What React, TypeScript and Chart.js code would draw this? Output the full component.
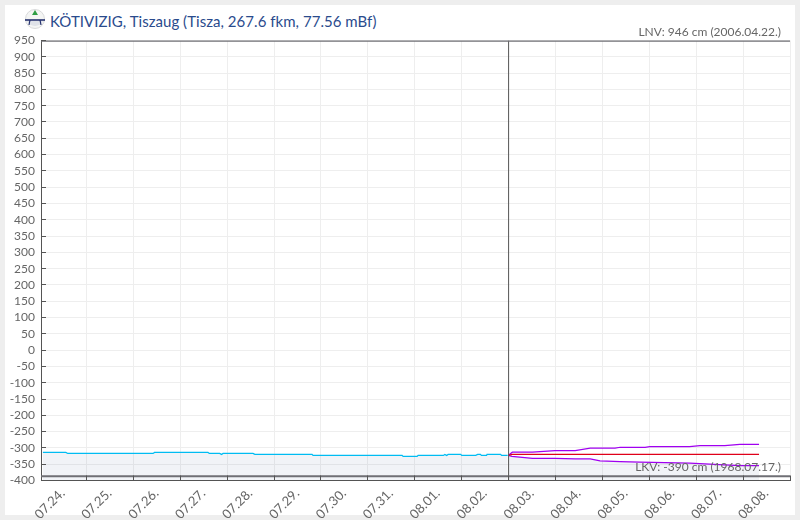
import React, { useEffect, useRef } from "react";
import { Chart, registerables } from "chart.js";

Chart.register(...registerables);

const titleText = "KÖTIVIZIG, Tiszaug (Tisza, 267.6 fkm, 77.56 mBf)";
const lnvText = "LNV: 946 cm (2006.04.22.)";
const lkvText = "LKV: -390 cm (1968.07.17.)";

const dayLabels = ["07.24.", "07.25.", "07.26.", "07.27.", "07.28.", "07.29.", "07.30.", "07.31.", "08.01.", "08.02.", "08.03.", "08.04.", "08.05.", "08.06.", "08.07.", "08.08."];
const xMin = 0.03;
const xMax = 16;
const yMin = -400;
const yMax = 950;
const yStep = 50;

const measuredDays = [0.07, 0.56, 0.6, 2.42, 2.45, 3.59, 3.62, 3.84, 3.88, 3.91, 4.55, 4.59, 5.81, 5.83, 7.73, 7.75, 8.05, 8.07, 8.61, 8.64, 8.68, 8.71, 8.98, 9.0, 9.3, 9.34, 9.4, 9.42, 9.53, 9.54, 9.83, 9.85, 9.98];
const measuredLevels = [-314, -314, -317, -317, -314, -314, -317, -317, -320, -317, -317, -320, -320, -323, -323, -326, -326, -323, -323, -320, -323, -320, -320, -323, -323, -320, -320, -323, -323, -320, -320, -323, -323];

const upperDays = [9.99, 10.08, 10.51, 10.99, 11.42, 11.74, 12.27, 12.38, 12.91, 13.01, 13.86, 14.08, 14.61, 14.93, 15.34];
const upperLevels = [-323, -313, -313, -308, -308, -301, -301, -298, -298, -296, -296, -293, -293, -289, -289];

const lowerDays = [9.99, 10.07, 10.51, 10.99, 11.42, 11.74, 11.95, 12.38, 12.8, 13.86, 14.5, 14.93, 15.34];
const lowerLevels = [-323, -326, -332, -332, -334, -334, -340, -342, -344, -347, -351, -354, -354];

const midDays = [9.99, 10.08, 15.34];
const midLevels = [-323, -320, -320];

const lnvLevel = 949;
const lkvLevel = -387;
const nowDay = 10;

const pts = (xs: number[], ys: number[]) => xs.map((x, i) => ({ x, y: ys[i] }));

const FONT = "Lato";
const FILL = "rgba(20,50,120,0.06)";
const DARK = "#555";

const overlay = {
  id: "overlay",
  afterDatasetsDraw(chart: any) {
    const { ctx, chartArea, scales } = chart;
    ctx.save();
    ctx.strokeStyle = DARK;
    ctx.lineWidth = 1;
    ctx.beginPath();
    scales.x.ticks.forEach((_: any, i: number) => {
      if (i === 0) return;
      const px = Math.floor(scales.x.getPixelForTick(i)) + 0.5;
      ctx.moveTo(px, chartArea.bottom);
      ctx.lineTo(px, chartArea.bottom - 5);
    });
    scales.y.ticks.forEach((_: any, i: number) => {
      const py = Math.floor(scales.y.getPixelForTick(i)) + 0.5;
      ctx.moveTo(chartArea.left, py);
      ctx.lineTo(chartArea.left + 5, py);
    });
    ctx.stroke();
    ctx.fillStyle = "#666";
    ctx.font = `12px ${FONT}`;
    ctx.textAlign = "right";
    ctx.textBaseline = "middle";
    ctx.fillText(lnvText, 781, 32);
    ctx.fillText(lkvText, 781, 467);
    ctx.restore();
  },
};

export default function App() {
  const ref = useRef<HTMLCanvasElement>(null);
  useEffect(() => {
    document.body.style.margin = "0";
    document.body.style.background = "#eee";
    const line = (label: string, data: any[], color: string, width: number, extra: any = {}) => ({
      type: "line",
      label,
      data,
      borderColor: color,
      borderWidth: width,
      pointRadius: 0,
      tension: 0,
      fill: false,
      ...extra,
    });
    const chart = new Chart(ref.current as HTMLCanvasElement, {
      type: "line",
      data: {
        datasets: [
          line("LNV", pts([xMin, xMax], [lnvLevel, lnvLevel]), "#6f6f75", 2),
          line("LKV", pts([xMin, xMax], [lkvLevel, lkvLevel]), "#6f6f75", 2),
          line("Now", pts([nowDay, nowDay], [yMin, yMax]), DARK, 1),
          line("Forecast", pts(midDays, midLevels), "#e0001a", 1.25),
          line("Forecast max", pts(upperDays, upperLevels), "#a000f0", 1.25),
          line("Forecast min", pts(lowerDays, lowerLevels), "#a000f0", 1.25, { fill: "start", backgroundColor: FILL }),
          line("Measured", pts(measuredDays, measuredLevels), "#00bcf2", 1.25, { fill: "start", backgroundColor: FILL }),
        ],
      } as any,
      plugins: [overlay],
      options: {
        animation: false,
        responsive: false,
        parsing: false,
        layout: { padding: { top: 40.5, right: 10, left: 0, bottom: 0 } },
        plugins: { legend: { display: false }, title: { display: false }, tooltip: { enabled: false } },
        scales: {
          x: {
            type: "linear",
            min: xMin,
            max: xMax,
            afterBuildTicks(scale: any) {
              scale.ticks = dayLabels.map((_, i) => ({ value: i })).concat([{ value: xMax }]);
            },
            afterFit(scale: any) {
              scale.height = 39.5;
              scale.paddingLeft = 0;
              scale.paddingRight = 0;
            },
            grid: {
              color: (c: any) => (c.index === 0 ? "transparent" : "#eeeeee"),
              lineWidth: 1,
              drawTicks: false,
            },
            border: { color: DARK, width: 1 },
            ticks: {
              autoSkip: false,
              minRotation: 45,
              maxRotation: 45,
              labelOffset: 23,
              padding: 5,
              color: "#666",
              font: { family: FONT, size: 13 },
              callback: (v: any) => dayLabels[v] ?? "",
            },
          },
          y: {
            type: "linear",
            min: yMin,
            max: yMax,
            afterFit(scale: any) {
              scale.width = 41;
              scale.paddingTop = 0;
              scale.paddingBottom = 0;
            },
            grid: { color: "#eeeeee", lineWidth: 1, drawTicks: false },
            border: { color: DARK, width: 1 },
            ticks: {
              stepSize: yStep,
              autoSkip: false,
              padding: 6,
              color: "#666",
              font: { family: FONT, size: 12 },
            },
          },
        },
      } as any,
    } as any);
    return () => chart.destroy();
  }, []);

  return (
    <div style={{ position: "relative", width: 800, height: 520, background: "#eee", overflow: "hidden" }}>
      <div style={{ position: "absolute", left: 5, top: 5, width: 790, height: 510, background: "#fff" }} />
      <svg width="22" height="22" viewBox="0 0 22 22" style={{ position: "absolute", left: 24, top: 8 }}>
        <circle cx="11" cy="11" r="9.5" fill="#f4f5f4" stroke="#d9dadb" strokeWidth="1" />
        <path d="M3 13 A9 9 0 0 0 19 13 Z" fill="#dfe2e8" />
        <path d="M11 2 L14 7 L8 7 Z" fill="#2f9e44" />
        <path d="M1 12 H21" stroke="#24306e" strokeWidth="1.6" />
        <path d="M6 12 L5 17 M16 12 L17 17" stroke="#24306e" strokeWidth="1.2" />
      </svg>
      <div style={{ position: "absolute", left: 50, top: 12, fontFamily: FONT, fontSize: 15, lineHeight: "18px", letterSpacing: "0.04px", color: "#2a4b8d", whiteSpace: "nowrap" }}>
        {titleText}
      </div>
      <canvas ref={ref} width={800} height={520} style={{ position: "absolute", left: 0, top: 0, width: 800, height: 520 }} />
    </div>
  );
}
